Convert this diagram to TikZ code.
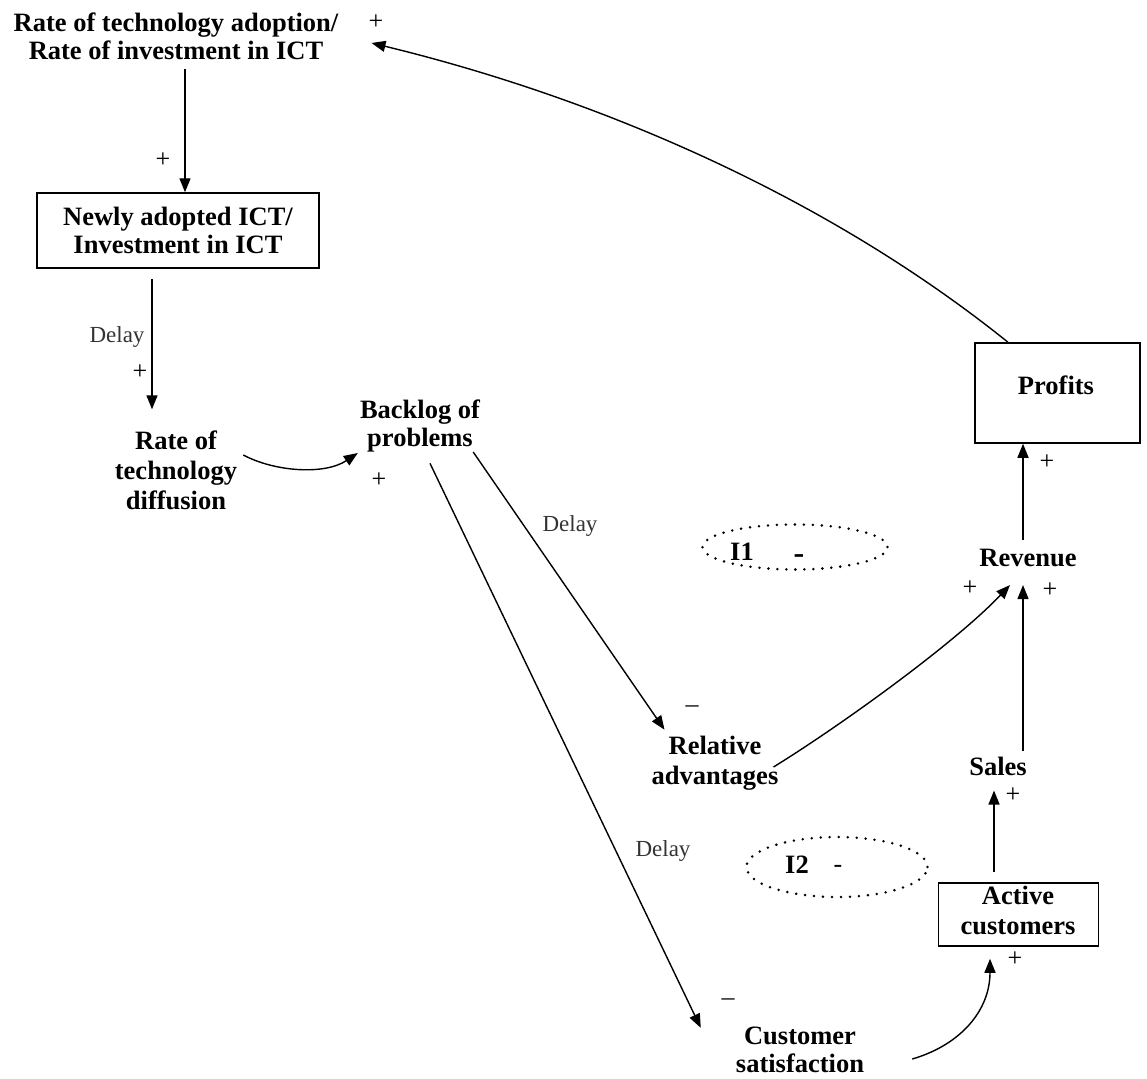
\documentclass[tikz,border=0pt]{standalone}
\usepackage{fontspec}
\setmainfont{Liberation Serif}
\usetikzlibrary{arrows.meta,calc,shapes.geometric}
\begin{document}
\begin{tikzpicture}[x=1pt,y=-1pt,
  var/.style={font=\fontsize{26.5}{28}\selectfont\bfseries, align=center, inner sep=2pt},
  stock/.style={draw, line width=1.5pt, inner sep=0pt},
  sign/.style={font=\fontsize{26}{26}\selectfont, inner sep=0pt},
  delaylbl/.style={font=\fontsize{23}{23}\selectfont, text=black!80, inner sep=0pt},
  link/.style={line width=1.4pt, -{Triangle[length=14pt,width=11pt]}},
  loopmark/.style={ellipse, draw, line width=2.8pt, line cap=round,
                   dash pattern=on 0pt off 9pt, inner sep=0pt}
]
\useasboundingbox (0,0) rectangle (1147,1078);

% variables
\node[var] (rti) at (176,36) {Rate of technology adoption/\\Rate of investment in ICT};
\node[var, stock, minimum width=282pt, minimum height=75pt] (nb) at (178,230.5)
  {Newly adopted ICT/\\Investment in ICT};
\node[var, font=\fontsize{26.5}{30}\selectfont\bfseries] (rtd) at (176,470)
  {Rate of\\technology\\diffusion};
\node[var] (bp) at (420,426) {Backlog of\\problems};
\node[var, font=\fontsize{26.5}{30}\selectfont\bfseries] (ra) at (715,763)
  {Relative\\advantages};
\node[var] (cs) at (800,1050) {Customer\\satisfaction};
\node[var] (rev) at (1028,558) {Revenue};
\node[var] (sal) at (998,766) {Sales};

% stocks drawn as boxes
\node[stock, minimum width=165pt, minimum height=100pt] (pf) at (1057.5,393) {};
\node[var] (pft) at (1056,385) {Profits};
\node[stock, minimum width=160pt, minimum height=63pt] (ac) at (1018.5,914.5) {};
\node[var, font=\fontsize{26.5}{30}\selectfont\bfseries] (act) at (1018,910)
  {Active\\customers};

% causal links
\draw[link] ($(rti.south)+(9,7)$) -- ($(nb.north)+(7,0)$);
\draw[link] ($(nb.south)+(-26,10)$) -- ($(rtd.north)+(-24,-19)$);
\draw[link] ($(rtd.east)+(4,-15)$) .. controls +(32,17) and +(-33,22) .. ($(bp.west)+(0,27)$);
\draw[link] ($(bp.east)+(-9,26)$) -- ($(ra.north west)+(15,-4)$);
\draw[link] ($(bp.south)+(10,9)$) -- ($(cs.north west)+(-33,3)$);
\draw[link] ($(ra.east)+(-7,4)$) .. controls +(68,-42) and +(-55,58) .. ($(rev.south)+(-18,16)$);
\draw[link] ($(sal.north)+(25,-3)$) -- ($(rev.south)+(-5,16)$);
\draw[link] ($(rev.north)+(-5,-7)$) -- ($(pf.south)+(-34.5,0)$);
\draw[link] ($(pf.north)+(-49.5,0)$) .. controls (826,196) and (598,98) .. ($(rti.east)+(31,7)$);
\draw[link] ($(act.north)+(-24,-11)$) -- ($(sal.south)+(-4,13)$);
\draw[link] ($(cs.east)+(46,9)$) .. controls +(48,-14) and +(0,52) .. ($(ac.south)+(-28.5,12)$);

% polarities and delays
\node[sign] (s1) at (376,22) {+};
\node[sign] (s2) at (163,160) {+};
\node[delaylbl] (d1) at (117,337) {Delay};
\node[sign] (s3) at (140,372) {+};
\node[sign] (s4) at (379,480) {+};
\node[delaylbl] (d2) at (570,526) {Delay};
\node[sign] (s5) at (692,709) {\textendash};
\node[delaylbl] (d3) at (663,851) {Delay};
\node[sign] (s6) at (728,1002) {\textendash};
\node[sign] (s7) at (1047,462) {+};
\node[sign] (s8) at (970,588) {+};
\node[sign] (s9) at (1050,590) {+};
\node[sign] (s10) at (1013,795) {+};
\node[sign] (s11) at (1015,959) {+};

% loop markers
\node[loopmark, minimum width=185pt, minimum height=45pt] (l1) at (795,547) {};
\node[var] (l1a) at (742,552) {I1};
\node[var, font=\fontsize{32}{32}\selectfont\bfseries] (l1b) at (799,559) {-};
\node[loopmark, minimum width=181pt, minimum height=60pt] (l2) at (837,867) {};
\node[var] (l2a) at (797,865) {I2};
\node[sign] (l2b) at (838,869) {-};
\end{tikzpicture}
\end{document}
